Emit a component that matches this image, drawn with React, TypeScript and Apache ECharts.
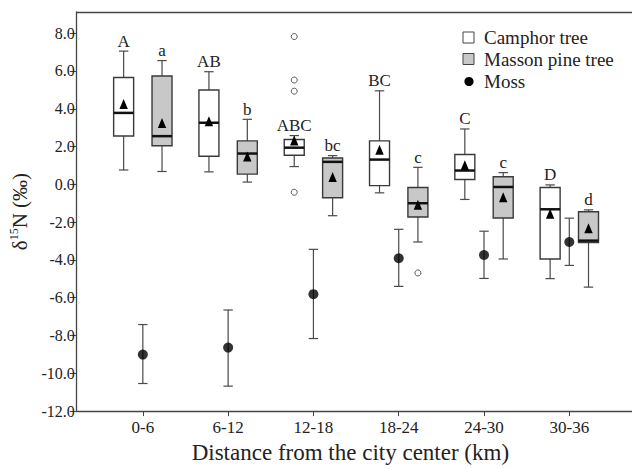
import React, { useEffect, useRef } from 'react';
import * as echarts from 'echarts';

const categories = ['0-6', '6-12', '12-18', '18-24', '24-30', '30-36'];
const yTicks = [-12, -10, -8, -6, -4, -2, 0, 2, 4, 6, 8];

// Camphor tree
const camphorLow = [0.76, 0.66, 0.94, -0.45, -0.8, -4.99];
const camphorQ1 = [2.56, 1.49, 1.54, -0.07, 0.26, -3.95];
const camphorMedian = [3.78, 3.26, 1.94, 1.31, 0.73, -1.32];
const camphorQ3 = [5.65, 4.99, 2.37, 2.3, 1.58, -0.17];
const camphorHigh = [7.05, 5.96, 2.58, 4.95, 2.93, -0.03];
const camphorMean = [4.22, 3.31, 2.29, 1.8, 0.99, -1.58];
const camphorLetters = ['A', 'AB', 'ABC', 'BC', 'C', 'D'];
const camphorOutlierCat = [2, 2, 2, 2];
const camphorOutlierVal = [7.82, 5.52, 4.93, -0.42];

// Masson pine tree
const massonLow = [0.68, 0.12, -1.66, -3.05, -3.95, -5.44];
const massonQ1 = [2.04, 0.54, -0.71, -1.73, -1.78, -3.08];
const massonMedian = [2.55, 1.63, 1.19, -1.0, -0.14, -2.98];
const massonQ3 = [5.73, 2.3, 1.39, -0.17, 0.4, -1.45];
const massonHigh = [6.55, 3.44, 1.52, 0.9, 0.62, -1.35];
const massonMean = [3.22, 1.45, 0.36, -1.11, -0.71, -2.35];
const massonLetters = ['a', 'b', 'bc', 'c', 'c', 'd'];
const massonOutlierCat = [3];
const massonOutlierVal = [-4.69];

// Moss (mean and error bar)
const mossMean = [-9.01, -8.64, -5.81, -3.91, -3.74, -3.05];
const mossLow = [-10.54, -10.68, -8.16, -5.4, -4.98, -4.29];
const mossHigh = [-7.42, -6.65, -3.44, -2.38, -2.48, -1.79];

const FONT = 'Liberation Serif, Times New Roman, serif';
const OFFSET = 0.225;
const X_MIN = 0.225;
const X_MAX = 6.735;

function boxSeries(
  name: string,
  low: number[], q1: number[], med: number[], q3: number[], high: number[], mean: number[],
  letters: string[], offset: number, fill: string
) {
  const data = categories.map((_, i) => [i + 1, low[i], q1[i], med[i], q3[i], high[i], mean[i]]);
  return {
    type: 'custom',
    name,
    xAxisIndex: 0,
    yAxisIndex: 0,
    data,
    encode: { x: 0, y: [1, 2, 3, 4, 5, 6] },
    z: 3,
    renderItem: (params: any, api: any) => {
      const x = api.value(0) + offset;
      const pLow = api.coord([x, api.value(1)]);
      const pQ1 = api.coord([x, api.value(2)]);
      const pMed = api.coord([x, api.value(3)]);
      const pQ3 = api.coord([x, api.value(4)]);
      const pHigh = api.coord([x, api.value(5)]);
      const pMean = api.coord([x, api.value(6)]);
      const cx = pLow[0];
      const hw = 10;
      const cap = 4.7;
      const lineStyle = { stroke: '#4a4a4a', lineWidth: 1.2 };
      return {
        type: 'group',
        children: [
          { type: 'line', shape: { x1: cx, y1: pQ3[1], x2: cx, y2: pHigh[1] }, style: lineStyle },
          { type: 'line', shape: { x1: cx - cap, y1: pHigh[1], x2: cx + cap, y2: pHigh[1] }, style: lineStyle },
          { type: 'line', shape: { x1: cx, y1: pQ1[1], x2: cx, y2: pLow[1] }, style: lineStyle },
          { type: 'line', shape: { x1: cx - cap, y1: pLow[1], x2: cx + cap, y2: pLow[1] }, style: lineStyle },
          {
            type: 'rect',
            shape: { x: cx - hw, y: pQ3[1], width: hw * 2, height: pQ1[1] - pQ3[1] },
            style: { fill, stroke: '#3a3a3a', lineWidth: 1.4 },
          },
          {
            type: 'line',
            shape: { x1: cx - hw, y1: pMed[1], x2: cx + hw, y2: pMed[1] },
            style: { stroke: '#111', lineWidth: 2.5 },
          },
          {
            type: 'polygon',
            shape: {
              points: [
                [cx, pMean[1] - 5.5],
                [cx - 4.2, pMean[1] + 4.5],
                [cx + 4.2, pMean[1] + 4.5],
              ],
            },
            style: { fill: '#000' },
          },
          {
            type: 'text',
            x: cx,
            y: pHigh[1] - 10,
            style: {
              text: letters[params.dataIndex],
              align: 'center',
              verticalAlign: 'middle',
              fontSize: 17,
              fontFamily: FONT,
              fill: '#222',
            },
          },
        ],
      };
    },
  };
}

export default function App() {
  const ref = useRef<HTMLDivElement>(null);

  useEffect(() => {
    if (!ref.current) return;
    const chart = echarts.init(ref.current, undefined, { renderer: 'svg' });

    const outlierStyle = { color: '#fff', borderColor: '#333', borderWidth: 1 };

    const option: any = {
      animation: false,
      backgroundColor: '#fff',
      textStyle: { fontFamily: FONT },
      grid: { left: 68, right: 0, top: 12, bottom: 50 },
      xAxis: [
        {
          type: 'value',
          min: X_MIN,
          max: X_MAX,
          position: 'bottom',
          name: 'Distance from the city center (km)',
          nameLocation: 'middle',
          nameGap: 27,
          nameTextStyle: { fontFamily: FONT, fontSize: 23, color: '#222', padding: [0, 8, 0, 0] },
          axisLine: { show: true, onZero: false, lineStyle: { color: '#444', width: 1.3 } },
          axisTick: { show: true, length: 5, customValues: [1, 2, 3, 4, 5, 6], lineStyle: { color: '#444' } },
          axisLabel: {
            customValues: [1, 2, 3, 4, 5, 6],
            formatter: (v: number) => categories[Math.round(v) - 1] ?? '',
            fontFamily: FONT,
            fontSize: 17,
            color: '#222',
            margin: 8,
          },
          splitLine: { show: false },
        },
        {
          type: 'value',
          min: X_MIN,
          max: X_MAX,
          position: 'top',
          axisLine: { show: true, onZero: false, lineStyle: { color: '#444', width: 1.3 } },
          axisTick: { show: false },
          axisLabel: { show: false },
          splitLine: { show: false },
        },
      ],
      yAxis: {
        type: 'value',
        min: -12,
        max: 9.12,
        interval: 2,
        name: '{d|δ}{s|15}{n|N (‰)}',
        nameLocation: 'middle',
        nameGap: 38,
        nameTextStyle: {
          fontFamily: FONT,
          color: '#222',
          rich: {
            d: { fontSize: 21, fontFamily: FONT, color: '#222', lineHeight: 24 },
            s: { fontSize: 12, fontFamily: FONT, color: '#222', verticalAlign: 'top', lineHeight: 12 },
            n: { fontSize: 21, fontFamily: FONT, color: '#222', lineHeight: 24 },
          },
        },
        axisLine: { show: true, onZero: false, lineStyle: { color: '#444', width: 1.3 } },
        axisTick: { show: true, length: 7, customValues: yTicks, lineStyle: { color: '#444' } },
        axisLabel: {
          customValues: yTicks,
          formatter: (v: number) => v.toFixed(1),
          fontFamily: FONT,
          fontSize: 16,
          color: '#222',
          margin: 2,
        },
        splitLine: { show: false },
      },
      series: [
        boxSeries('Camphor tree', camphorLow, camphorQ1, camphorMedian, camphorQ3, camphorHigh, camphorMean, camphorLetters, -OFFSET, '#ffffff'),
        boxSeries('Masson pine tree', massonLow, massonQ1, massonMedian, massonQ3, massonHigh, massonMean, massonLetters, OFFSET, '#c8c8c8'),
        {
          type: 'scatter',
          name: 'Camphor outliers',
          symbol: 'circle',
          symbolSize: 6,
          itemStyle: outlierStyle,
          z: 4,
          data: camphorOutlierCat.map((c, i) => [c + 1 - OFFSET, camphorOutlierVal[i]]),
        },
        {
          type: 'scatter',
          name: 'Masson outliers',
          symbol: 'circle',
          symbolSize: 6,
          itemStyle: outlierStyle,
          z: 4,
          data: massonOutlierCat.map((c, i) => [c + 1 + OFFSET, massonOutlierVal[i]]),
        },
        {
          type: 'custom',
          name: 'Moss error',
          data: categories.map((_, i) => [i + 1, mossLow[i], mossHigh[i]]),
          encode: { x: 0, y: [1, 2] },
          z: 2,
          renderItem: (_params: any, api: any) => {
            const x = api.value(0);
            const lo = api.coord([x, api.value(1)]);
            const hi = api.coord([x, api.value(2)]);
            const cap = 4.7;
            const st = { stroke: '#4a4a4a', lineWidth: 1.2 };
            return {
              type: 'group',
              children: [
                { type: 'line', shape: { x1: lo[0], y1: lo[1], x2: hi[0], y2: hi[1] }, style: st },
                { type: 'line', shape: { x1: lo[0] - cap, y1: lo[1], x2: lo[0] + cap, y2: lo[1] }, style: st },
                { type: 'line', shape: { x1: hi[0] - cap, y1: hi[1], x2: hi[0] + cap, y2: hi[1] }, style: st },
              ],
            };
          },
        },
        {
          type: 'scatter',
          name: 'Moss',
          symbol: 'circle',
          symbolSize: 10,
          itemStyle: { color: '#000' },
          z: 5,
          data: categories.map((_, i) => [i + 1, mossMean[i]]),
        },
      ],
      graphic: [
        { type: 'rect', shape: { x: 463, y: 32, width: 11, height: 11 }, style: { fill: '#fff', stroke: '#444', lineWidth: 1 } },
        { type: 'text', x: 484, y: 37.5, style: { text: 'Camphor tree', fontSize: 19, fontFamily: FONT, fill: '#222', verticalAlign: 'middle' } },
        { type: 'rect', shape: { x: 463, y: 53.5, width: 11, height: 11 }, style: { fill: '#c8c8c8', stroke: '#444', lineWidth: 1 } },
        { type: 'text', x: 484, y: 59.3, style: { text: 'Masson pine tree', fontSize: 19, fontFamily: FONT, fill: '#222', verticalAlign: 'middle' } },
        { type: 'circle', shape: { cx: 469, cy: 81.5, r: 4.6 }, style: { fill: '#000' } },
        { type: 'text', x: 484, y: 81, style: { text: 'Moss', fontSize: 19, fontFamily: FONT, fill: '#222', verticalAlign: 'middle' } },
      ],
    };

    chart.setOption(option);
    return () => chart.dispose();
  }, []);

  return (
    <div
      ref={ref}
      style={{ position: 'fixed', left: 0, top: 0, width: 632, height: 469, background: '#fff' }}
    />
  );
}
